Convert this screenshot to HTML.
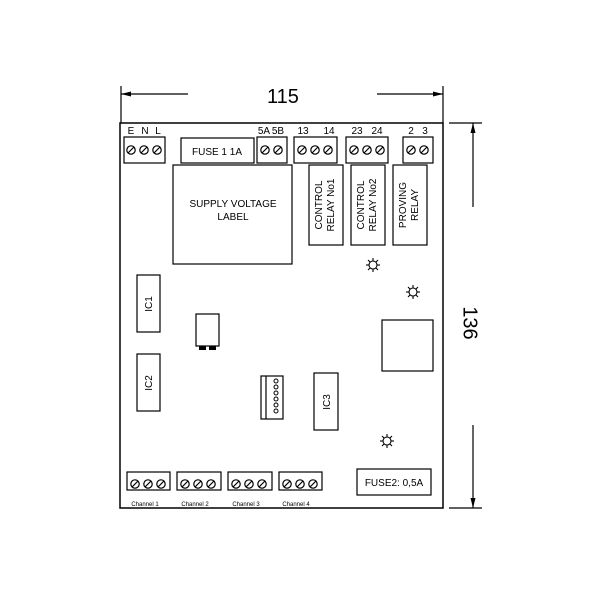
<!DOCTYPE html>
<html><head><style>body{margin:0;background:#fff}</style></head><body>
<svg width="600" height="600" viewBox="0 0 600 600" xmlns="http://www.w3.org/2000/svg" font-family="Liberation Sans, sans-serif">
<defs>
<g id="scr"><circle r="4.2" fill="#fff" stroke="#000" stroke-width="1.2"/><line x1="-3" y1="3" x2="3" y2="-3" stroke="#000" stroke-width="1.2"/></g>
<g id="sun" stroke="#000" stroke-width="1.1" fill="none"><circle r="4"/><line x1="0" y1="-7" x2="0" y2="-4"/><line x1="0" y1="4" x2="0" y2="7"/><line x1="-7" y1="0" x2="-4" y2="0"/><line x1="4" y1="0" x2="7" y2="0"/><line x1="-5" y1="-5" x2="-3" y2="-3"/><line x1="5" y1="5" x2="3" y2="3"/><line x1="5" y1="-5" x2="3" y2="-3"/><line x1="-5" y1="5" x2="-3" y2="3"/></g>
</defs>
<g stroke="#000" stroke-width="1.2" fill="none">
<!-- dimensions -->
<line x1="121" y1="86" x2="121" y2="123"/><line x1="443" y1="86" x2="443" y2="123"/>
<line x1="121" y1="94" x2="188" y2="94"/><line x1="377" y1="94" x2="443" y2="94"/>
<line x1="449" y1="123" x2="482" y2="123"/><line x1="449" y1="508" x2="482" y2="508"/>
<line x1="473" y1="123" x2="473" y2="207"/><line x1="473" y1="425" x2="473" y2="508"/>
<!-- board -->
<rect x="120" y="123" width="323" height="385" stroke-width="1.5"/>
<!-- top terminals -->
<rect x="124" y="137" width="41" height="26"/>
<rect x="181" y="138" width="73" height="25"/>
<rect x="257" y="137" width="30" height="26"/>
<rect x="294" y="137" width="43" height="26"/>
<rect x="346" y="137" width="42" height="26"/>
<rect x="403" y="137" width="30" height="26"/>
<rect x="173" y="165" width="119" height="99"/>
<rect x="309" y="165" width="34" height="80"/>
<rect x="351" y="165" width="34" height="80"/>
<rect x="393" y="165" width="34" height="80"/>
<rect x="137" y="275" width="23" height="57"/>
<rect x="137" y="354" width="23" height="57"/>
<rect x="196" y="314" width="23" height="32"/>
<rect x="261" y="376" width="22" height="43"/>
<line x1="266" y1="376" x2="266" y2="419"/>
<rect x="314" y="373" width="24" height="57"/>
<rect x="382" y="320" width="51" height="51"/>
<rect x="127" y="472" width="43" height="18"/>
<rect x="177" y="472" width="44" height="18"/>
<rect x="228" y="472" width="44" height="18"/>
<rect x="279" y="472" width="43" height="18"/>
<rect x="357" y="469" width="74" height="26"/>
</g>
<rect x="199" y="346" width="7" height="4" fill="#000"/><rect x="209" y="346" width="7" height="4" fill="#000"/>
<g fill="#fff" stroke="#000" stroke-width="1"><circle cx="276" cy="381" r="2"/><circle cx="276" cy="387" r="2"/><circle cx="276" cy="393" r="2"/><circle cx="276" cy="399" r="2"/><circle cx="276" cy="405" r="2"/><circle cx="276" cy="411" r="2"/></g>
<path d="M121 94 l10 -2.5 v5z M443 94 l-10 -2.5 v5z M473 123 l-2.5 10 h5z M473 508 l-2.5 -10 h5z" fill="#000"/>
<!-- screws -->
<use href="#scr" x="131" y="150"/><use href="#scr" x="144" y="150"/><use href="#scr" x="157" y="150"/>
<use href="#scr" x="265" y="150"/><use href="#scr" x="278" y="150"/>
<use href="#scr" x="302" y="150"/><use href="#scr" x="315" y="150"/><use href="#scr" x="328" y="150"/>
<use href="#scr" x="354" y="150"/><use href="#scr" x="367" y="150"/><use href="#scr" x="380" y="150"/>
<use href="#scr" x="411" y="150"/><use href="#scr" x="424" y="150"/>
<use href="#scr" x="135" y="484"/><use href="#scr" x="148" y="484"/><use href="#scr" x="161" y="484"/>
<use href="#scr" x="185" y="484"/><use href="#scr" x="198" y="484"/><use href="#scr" x="211" y="484"/>
<use href="#scr" x="236" y="484"/><use href="#scr" x="249" y="484"/><use href="#scr" x="262" y="484"/>
<use href="#scr" x="287" y="484"/><use href="#scr" x="300" y="484"/><use href="#scr" x="313" y="484"/>
<use href="#sun" x="373" y="265"/><use href="#sun" x="413" y="292"/><use href="#sun" x="387" y="441"/>
<g fill="#000" font-size="10" text-anchor="middle">
<text x="283" y="103" font-size="20">115</text>
<text x="469" y="323" font-size="20" transform="rotate(90 469 323)" dominant-baseline="middle">136</text>
<text x="131" y="134">E</text><text x="145" y="134">N</text><text x="158" y="134">L</text>
<text x="264" y="134">5A</text><text x="278" y="134">5B</text>
<text x="303" y="134">13</text><text x="329" y="134">14</text>
<text x="357" y="134">23</text><text x="377" y="134">24</text>
<text x="411" y="134">2</text><text x="425" y="134">3</text>
<text x="217" y="155">FUSE 1  1A</text>
<text x="233" y="207">SUPPLY VOLTAGE</text><text x="233" y="220">LABEL</text>
<text transform="translate(322 205) rotate(-90)">CONTROL</text><text transform="translate(334 205) rotate(-90)">RELAY No1</text>
<text transform="translate(364 205) rotate(-90)">CONTROL</text><text transform="translate(376 205) rotate(-90)">RELAY No2</text>
<text transform="translate(406 205) rotate(-90)">PROVING</text><text transform="translate(418 205) rotate(-90)">RELAY</text>
<text transform="translate(152 304) rotate(-90)">IC1</text>
<text transform="translate(152 383) rotate(-90)">IC2</text>
<text transform="translate(330 402) rotate(-90)">IC3</text>
<text x="394" y="486">FUSE2: 0,5A</text>
<g font-size="6"><text x="145" y="506">Channel 1</text><text x="195" y="506">Channel 2</text><text x="246" y="506">Channel 3</text><text x="296" y="506">Channel 4</text></g>
</g>
</svg>
</body></html>
